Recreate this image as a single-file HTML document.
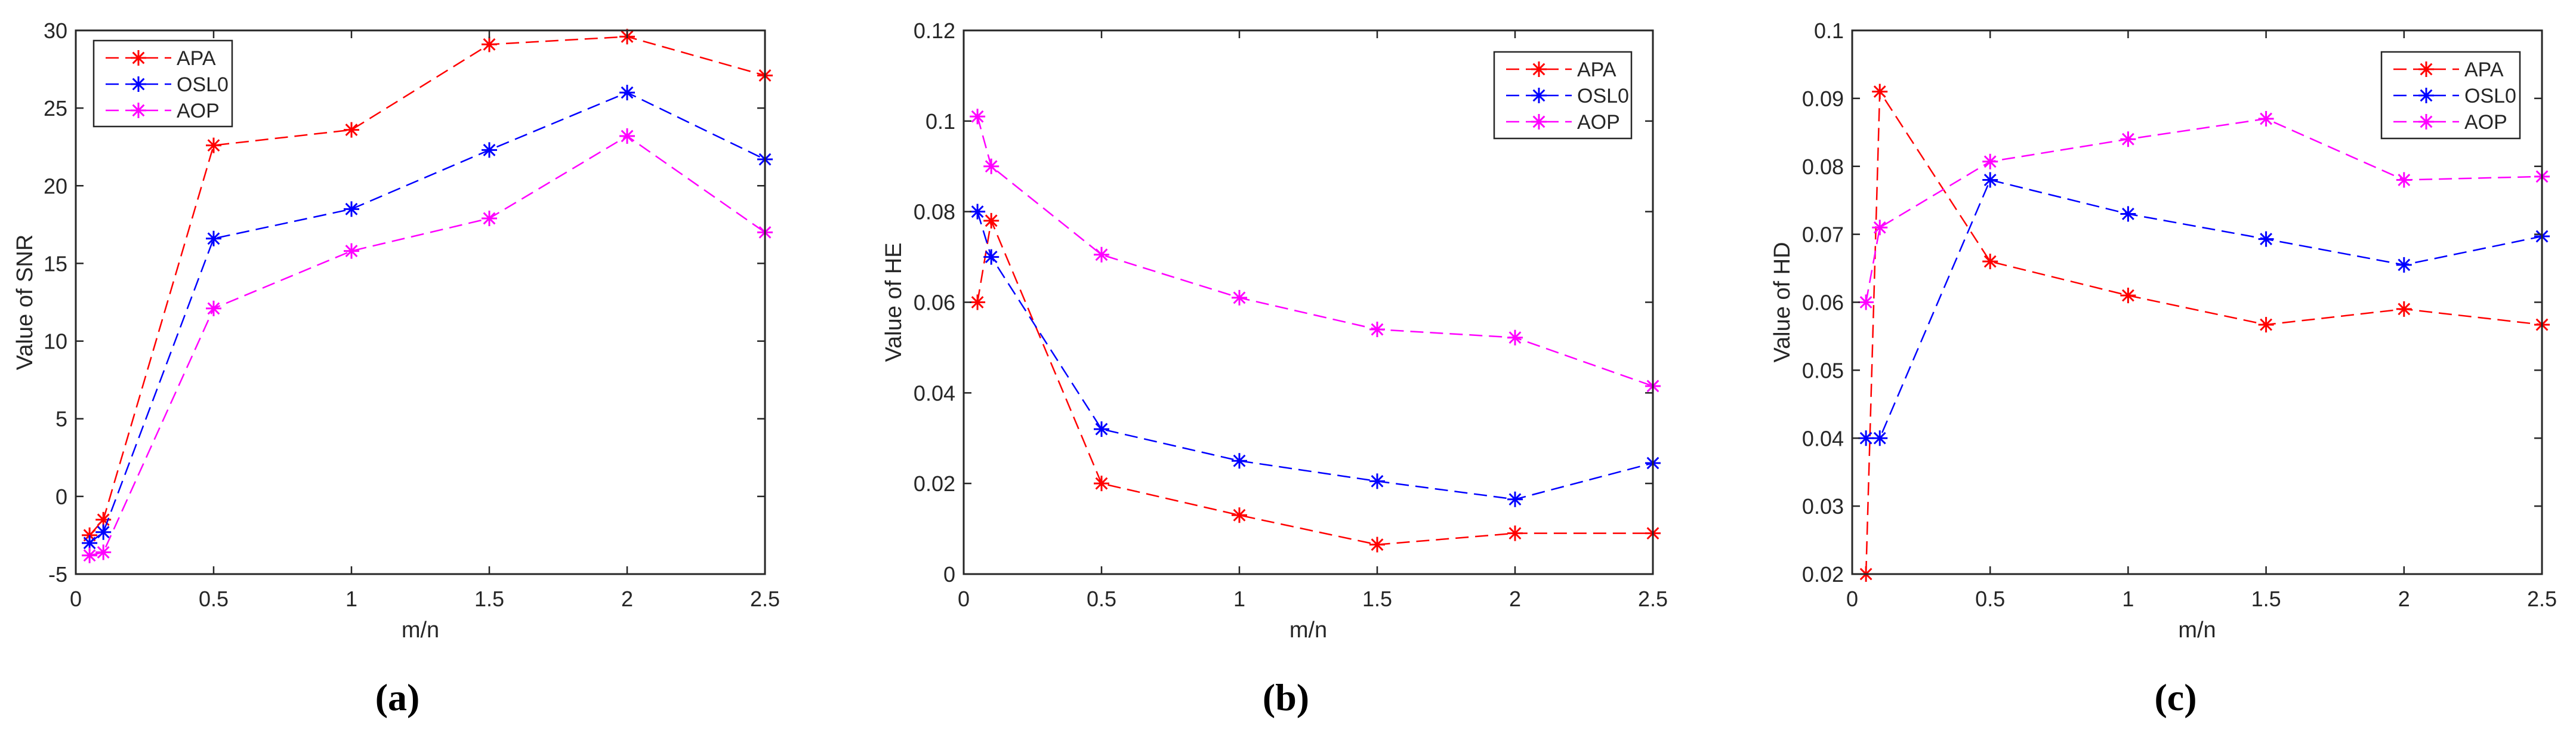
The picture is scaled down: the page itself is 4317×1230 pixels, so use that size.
<!DOCTYPE html>
<html><head><meta charset="utf-8"><style>
body{margin:0;background:#fff;}
svg{display:block;}
text{font-family:"Liberation Sans",sans-serif;fill:#262626;}
</style></head><body>
<svg id="fig" width="4317" height="1230" viewBox="0 0 4317 1230" xmlns="http://www.w3.org/2000/svg"></svg>
<script>
const xVals = [0.05, 0.1, 0.5, 1, 1.5, 2, 2.5];
const xTicks = [0, 0.5, 1, 1.5, 2, 2.5];
const xTickLabels = ["0", "0.5", "1", "1.5", "2", "2.5"];
const seriesNames = ["APA", "OSL0", "AOP"];
const seriesColors = ["#ff0000", "#0000ff", "#ff00ff"];

const snrAPA = [-2.5, -1.5, 22.6, 23.6, 29.1, 29.6, 27.1];
const snrOSL0 = [-3, -2.3, 16.6, 18.5, 22.3, 26, 21.7];
const snrAOP = [-3.8, -3.6, 12.1, 15.8, 17.9, 23.2, 17];
const snrTicks = [-5, 0, 5, 10, 15, 20, 25, 30];
const snrTickLabels = ["-5", "0", "5", "10", "15", "20", "25", "30"];

const heAPA = [0.06, 0.078, 0.02, 0.013, 0.0065, 0.009, 0.009];
const heOSL0 = [0.08, 0.07, 0.032, 0.025, 0.0205, 0.0165, 0.0245];
const heAOP = [0.101, 0.09, 0.0705, 0.061, 0.054, 0.0522, 0.0415];
const heTicks = [0, 0.02, 0.04, 0.06, 0.08, 0.1, 0.12];
const heTickLabels = ["0", "0.02", "0.04", "0.06", "0.08", "0.1", "0.12"];

const hdAPA = [0.02, 0.091, 0.066, 0.061, 0.0567, 0.059, 0.0567];
const hdOSL0 = [0.04, 0.04, 0.078, 0.073, 0.0693, 0.0655, 0.0697];
const hdAOP = [0.06, 0.071, 0.0807, 0.084, 0.087, 0.078, 0.0785];
const hdTicks = [0.02, 0.03, 0.04, 0.05, 0.06, 0.07, 0.08, 0.09, 0.1];
const hdTickLabels = ["0.02", "0.03", "0.04", "0.05", "0.06", "0.07", "0.08", "0.09", "0.1"];

const NS = "http://www.w3.org/2000/svg";
const svg = document.getElementById("fig");
function mk(tag, attrs, parent) {
  const e = document.createElementNS(NS, tag);
  for (const k in attrs) e.setAttribute(k, attrs[k]);
  (parent || svg).appendChild(e);
  return e;
}
function star(g, cx, cy, color) {
  const r = 13;
  const d = `M${cx-r},${cy}H${cx+r}M${cx},${cy-r}V${cy+r}M${cx-r*0.72},${cy-r*0.72}L${cx+r*0.72},${cy+r*0.72}M${cx-r*0.72},${cy+r*0.72}L${cx+r*0.72},${cy-r*0.72}`;
  const p = mk("path", {d: d, stroke: color, "stroke-width": 3, fill: "none"}, g);
  
  
}

function chart(cfg) {
  const g = mk("g", {});
  
  
  const {L, R, T, B, yMin, yMax} = cfg;
  const sx = v => L + (v - 0) / 2.5 * (R - L);
  const sy = v => B - (v - yMin) / (yMax - yMin) * (B - T);
  // series
  cfg.series.forEach((vals, si) => {
    const sg = mk("g", {}, g);
    
    
    const pts = vals.map((v, i) => sx(xVals[i]) + "," + sy(v)).join(" ");
    const pl = mk("polyline", {points: pts, fill: "none", stroke: seriesColors[si], "stroke-width": 2.5, "stroke-dasharray": "22,11"}, sg);
    
    
    vals.forEach((v, i) => star(sg, sx(xVals[i]), sy(v), seriesColors[si]));
  });
  // axes box
  const box = mk("rect", {x: L, y: T, width: R - L, height: B - T, fill: "none", stroke: "#262626", "stroke-width": 3}, g);
  
  
  xTicks.forEach((t, i) => {
    const x = sx(t);
    mk("path", {d: `M${x},${B}V${B-13}M${x},${T}V${T+13}`, stroke: "#262626", "stroke-width": 2.5}, g);
    const tx = mk("text", {x: x, y: B + 54, "font-size": 36, "text-anchor": "middle"}, g);
    tx.textContent = xTickLabels[i];
    
    
  });
  cfg.yTicks.forEach((t, i) => {
    const y = sy(t);
    mk("path", {d: `M${L},${y}H${L+13}M${R},${y}H${R-13}`, stroke: "#262626", "stroke-width": 2.5}, g);
    const tx = mk("text", {x: L - 14, y: y + 13, "font-size": 36, "text-anchor": "end"}, g);
    tx.textContent = cfg.yTickLabels[i];
    
    
  });
  const xl = mk("text", {x: (L + R) / 2, y: 1068, "font-size": 38, "text-anchor": "middle"}, g);
  xl.textContent = "m/n";
  
  
  const yl = mk("text", {x: cfg.ylx, y: (T + B) / 2, "font-size": 38, "text-anchor": "middle", transform: `rotate(-90 ${cfg.ylx} ${(T+B)/2})`}, g);
  yl.textContent = cfg.ylabel;
  
  
  // legend
  const lg = mk("g", {}, g);
  
  
  const [lx, ly, lw, lh] = cfg.legend;
  mk("rect", {x: lx, y: ly, width: lw, height: lh, fill: "#fff", stroke: "#262626", "stroke-width": 2.5}, lg);
  seriesNames.forEach((n, i) => {
    const y = ly + 29 + i * 44;
    const eg = mk("g", {}, lg);
    
    
    mk("line", {x1: lx + 20, x2: lx + 130, y1: y, y2: y, stroke: seriesColors[i], "stroke-width": 2.5, "stroke-dasharray": "22,11"}, eg);
    star(eg, lx + 75, y, seriesColors[i]);
    const t = mk("text", {x: lx + 139, y: y + 12, "font-size": 34}, eg);
    t.textContent = n;
  });
  const cap = mk("text", {x: cfg.capx, y: 1190, "font-size": 64, "text-anchor": "middle", "font-weight": "bold"}, g);
  cap.setAttribute("style", "font-family:'Liberation Serif',serif;fill:#000");
  cap.textContent = cfg.caption;
  
  
}

chart({name: "snr-chart", L: 127, R: 1282, T: 51, B: 962, yMin: -5, yMax: 30,
  yTicks: snrTicks, yTickLabels: snrTickLabels, series: [snrAPA, snrOSL0, snrAOP],
  ylabel: "Value of SNR", ylx: 54, legend: [157, 68, 232, 144], capx: 666, caption: "(a)"});
chart({name: "he-chart", L: 1615, R: 2770, T: 51, B: 962, yMin: 0, yMax: 0.12,
  yTicks: heTicks, yTickLabels: heTickLabels, series: [heAPA, heOSL0, heAOP],
  ylabel: "Value of HE", ylx: 1510, legend: [2504, 87, 230, 145], capx: 2155, caption: "(b)"});
chart({name: "hd-chart", L: 3104, R: 4260, T: 51, B: 962, yMin: 0.02, yMax: 0.1,
  yTicks: hdTicks, yTickLabels: hdTickLabels, series: [hdAPA, hdOSL0, hdAOP],
  ylabel: "Value of HD", ylx: 2999, legend: [3991, 87, 232, 145], capx: 3646, caption: "(c)"});
</script>
</body></html>
